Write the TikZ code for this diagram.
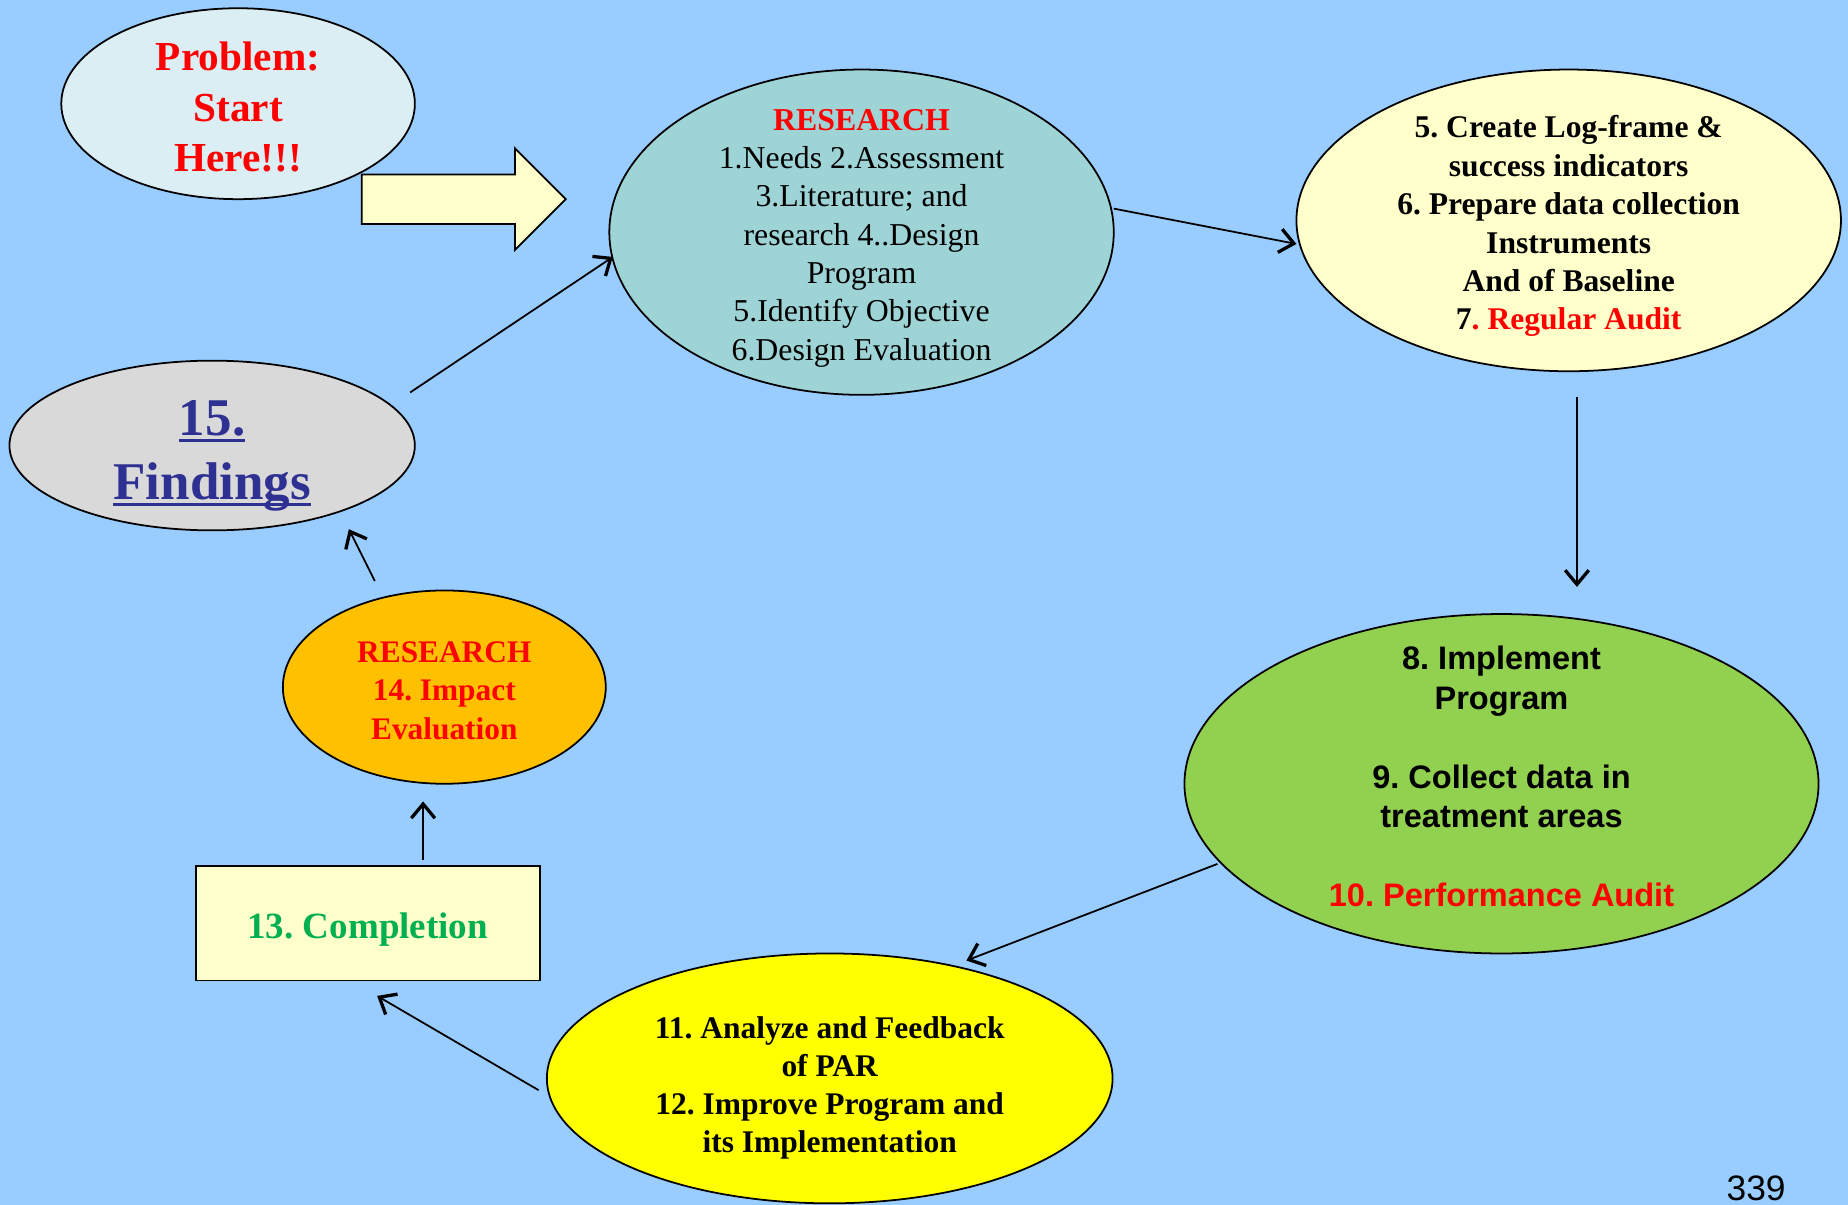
\documentclass[tikz,border=0pt]{standalone}
\usepackage{fontspec}
\setmainfont{Liberation Serif}
\newfontfamily\arialfont{Liberation Sans}
\usetikzlibrary{arrows.meta,shapes.geometric}
\definecolor{bg}{RGB}{153,204,255}
\definecolor{probfill}{RGB}{218,238,243}
\definecolor{resfill}{RGB}{159,212,215}
\definecolor{paleyellow}{RGB}{255,255,204}
\definecolor{greenfill}{RGB}{146,208,80}
\definecolor{brightyellow}{RGB}{255,255,0}
\definecolor{orangefill}{RGB}{255,192,0}
\definecolor{greyfill}{RGB}{217,217,217}
\definecolor{findblue}{RGB}{46,49,146}
\definecolor{compgreen}{RGB}{0,176,80}
\newcommand\myul[1]{\setbox0\hbox{#1}\rlap{\vrule height -3pt depth 5.5pt width \wd0}\box0}
\frenchspacing
\begin{document}
\begin{tikzpicture}[x=1pt,y=-1pt,
  oval/.style={ellipse,draw=black,line width=1.5pt,inner sep=0pt},
  txt/.style={align=center,inner sep=0pt},
  conn/.style={line width=1.5pt,-{Straight Barb[length=12pt,width=20pt,line width=2.8pt]}}]
\fill[bg] (0,0) rectangle (1568,1022);
\useasboundingbox (0,0) rectangle (1568,1022);

\node[oval,fill=probfill,minimum width=300pt,minimum height=162pt] (prob) at (202,88) {};
\node[txt,font=\fontsize{35}{43}\selectfont\bfseries,text=red] (probtext) at (202,91)
  {Problem:\\Start\\Here!!!};

\draw[fill=paleyellow,line width=1.5pt] (307,148) -- (437,148) -- (437,126) -- (480,169)
  -- (437,212) -- (437,190) -- (307,190) -- cycle;

\node[oval,fill=resfill,minimum width=428pt,minimum height=276pt] (res) at (731,197) {};
\node[txt,font=\fontsize{27}{32.5}\selectfont] (restext) at (731,202)
  {\textcolor{red}{\bfseries RESEARCH}\\1.Needs 2.Assessment\\3.Literature; and\\research 4..Design\\Program\\5.Identify Objective\\6.Design Evaluation};

\node[oval,fill=paleyellow,minimum width=462pt,minimum height=256pt] (yel) at (1331,187) {};
\node[txt,font=\fontsize{26.8}{32.6}\selectfont\bfseries] (yeltext) at (1331,192)
  {5. Create Log-frame \&\\success indicators\\6. Prepare data collection\\Instruments\\And of Baseline\\7\textcolor{red}{. Regular Audit}};

\node[oval,fill=greenfill,minimum width=538pt,minimum height=288pt] (grn) at (1274,665) {};
\node[txt,font=\arialfont\fontsize{27.6}{33.5}\selectfont\bfseries] (grntext) at (1274,659)
  {8. Implement\\Program\\\mbox{}\\9. Collect data in\\treatment areas\\\mbox{}\\\textcolor{red}{10. Performance Audit}};

\node[oval,fill=brightyellow,minimum width=480pt,minimum height=212pt] (bry) at (704,915) {};
\node[txt,font=\fontsize{26.7}{32.3}\selectfont\bfseries] (brytext) at (704,923)
  {11. Analyze and Feedback\\of PAR\\12. Improve Program and\\its Implementation};

\node[draw=black,line width=1.5pt,fill=paleyellow,minimum width=292pt,minimum height=97pt,
  inner sep=0pt] (comp) at (312,783.5) {};
\node[txt,font=\fontsize{31.4}{36}\selectfont\bfseries,text=compgreen] (comptext) at (312,789)
  {13. Completion};

\node[oval,fill=orangefill,minimum width=274pt,minimum height=164pt] (org) at (377,583) {};
\node[txt,font=\fontsize{26.6}{32.5}\selectfont\bfseries,text=red] (orgtext) at (377,586)
  {RESEARCH\\14. Impact\\Evaluation};

\node[oval,fill=greyfill,minimum width=344pt,minimum height=144pt] (find) at (180,378) {};
\node[txt,font=\fontsize{45}{54}\selectfont\bfseries,text=findblue] (findtext) at (180,387)
  {\myul{15.}\\\myul{Findings}};

\node[font=\arialfont\fontsize{30}{36}\selectfont] (pg) at (1490,1008) {339};

\draw[conn] ([shift={(168,-45)}]find.center) -- ([shift={(-211,21)}]res.center);
\draw[conn] ([shift={(214,-20)}]res.center) -- ([shift={(-231,20)}]yel.center);
\draw[conn] ([shift={(7,150)}]yel.center) -- ([shift={(64,-167)}]grn.center);
\draw[conn] ([shift={(-241,68)}]grn.center) -- ([shift={(116,-100)}]bry.center);
\draw[conn] ([shift={(-247,10)}]bry.center) -- ([shift={(8,61.5)}]comp.center);
\draw[conn] ([shift={(47,-53.5)}]comp.center) -- ([shift={(-18,97)}]org.center);
\draw[conn] ([shift={(-59,-90)}]org.center) -- ([shift={(116,71)}]find.center);
\end{tikzpicture}
\end{document}
